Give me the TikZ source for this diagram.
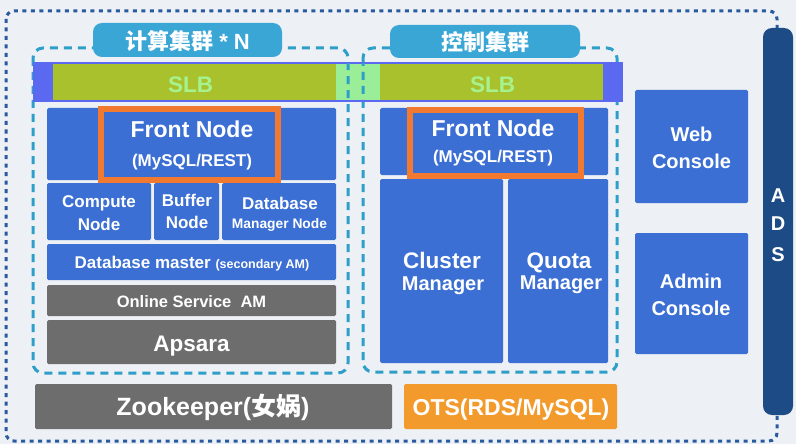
\documentclass[tikz,border=0pt]{standalone}
\usepackage{fontspec}
\setmainfont{Liberation Sans}
\newfontfamily\cjk{Noto Sans CJK SC}
\usetikzlibrary{fit}
\definecolor{bgc}{HTML}{EDF0F4}
\definecolor{blu}{HTML}{3B6FD3}
\definecolor{gry}{HTML}{6D6D6D}
\definecolor{teal}{HTML}{2E9FC9}
\definecolor{lab}{HTML}{3AA6D6}
\definecolor{outer}{HTML}{2A5A9E}
\definecolor{ads}{HTML}{1C4B85}
\definecolor{slbend}{HTML}{5B68F0}
\definecolor{olive}{HTML}{A9C12C}
\definecolor{gap}{HTML}{9AEE98}
\definecolor{slbtxt}{HTML}{A6F28E}
\definecolor{ofr}{HTML}{F27A30}
\definecolor{ots}{HTML}{F39A2C}
\newcommand\fsz[1]{\fontsize{#1}{#1}\selectfont}
\begin{document}
\begin{tikzpicture}[x=1pt,y=-1pt,
  box/.style={inner sep=0pt,outer sep=0pt,draw=none,rounded corners=1.5pt},
  blk/.style={box,fill=blu},
  gblk/.style={box,fill=gry},
  frame/.style={inner sep=0pt,outer sep=0pt,draw=ofr,fill=blu,line width=6pt},
  lbl/.style={inner sep=0pt,outer sep=0pt,fill=lab,rounded corners=9pt},
  clus/.style={draw=teal,line width=3pt,dash pattern=on 8pt off 6pt,rounded corners=10pt},
  txt/.style={text=white,inner sep=0pt,anchor=base,font=\bfseries}]
\fill[bgc] (0,0) rectangle (796,444);
\useasboundingbox (0,0) rectangle (796,444);
% outer dotted border
\draw[outer,line width=3pt,dash pattern=on 4pt off 4.5pt,rounded corners=8pt] (6,11) rectangle (777,441);
% cluster boxes
\draw[clus] (33,48) rectangle (348,373);
\draw[clus] (363,48) rectangle (617,372);
% SLB bar
\node[box,rounded corners=0pt,fill=slbend,fit={(33,62)(623,102)}] (slb) {};
\node[box,rounded corners=0pt,fill=olive,fit={(53,64)(336,100)}] (slbL) {};
\node[box,rounded corners=0pt,fill=gap,fit={(336,64)(380,100)}] (slbG) {};
\node[box,rounded corners=0pt,fill=olive,fit={(380,64)(603,100)}] (slbR) {};
\begin{scope}
\clip (slbG.north west) rectangle (slbG.south east);
\draw[clus] (33,48) rectangle (348,373);
\draw[clus] (363,48) rectangle (617,372);
\end{scope}
\node[txt,text=slbtxt,font=\bfseries\fsz{22.5}] (tslbL) at (190.5,93) {SLB};
\node[txt,text=slbtxt,font=\bfseries\fsz{22.5}] (tslbR) at (492.5,93) {SLB};
% cluster labels
\node[lbl,fit={(93,23)(282,57)}] (labL) {};
\node[lbl,fit={(390,25)(580,58)}] (labR) {};
\node[txt,font=\bfseries\fsz{22}] (tlabL) at (187.5,50) {{\cjk 计算集群} * N};
\node[txt,font=\bfseries\fsz{22}] (tlabR) at (485.5,50.5) {\cjk 控制集群};
% left column
\node[blk,fit={(47,108)(336,180)}] (fnL) {};
\node[frame,fit={(101,109)(278,180)}] (ofL) {};
\node[txt,font=\bfseries\fsz{23}] (tfnL) at (192,137) {Front Node};
\node[txt,font=\bfseries\fsz{17}] (tmyL) at (192,166) {(MySQL/REST)};
\node[blk,fit={(47,183)(151,240)}] (comp) {};
\node[blk,fit={(154,183)(219,240)}] (buf) {};
\node[blk,fit={(222,183)(336,240)}] (dbmn) {};
\node[txt,font=\bfseries\fsz{17}] (tc1) at (99,207) {Compute};
\node[txt,font=\bfseries\fsz{17}] (tc2) at (99,230) {Node};
\node[txt,font=\bfseries\fsz{17}] (tb1) at (187,206) {Buffer};
\node[txt,font=\bfseries\fsz{17}] (tb2) at (187,228) {Node};
\node[txt,font=\bfseries\fsz{17}] (td1) at (280,209) {Database};
\node[txt,font=\bfseries\fsz{13.8}] (td2) at (279.5,228) {Manager Node};
\node[blk,fit={(47,244)(336,280)}] (dbms) {};
\node[txt,font=\bfseries\fsz{17}] (tdm) at (192,268) {Database master {\fsz{12.5}(secondary AM)}};
\node[gblk,fit={(47,285)(336,316)}] (osam) {};
\node[txt,font=\bfseries\fsz{16.5}] (tos) at (191.5,307) {Online Service\ \ AM};
\node[gblk,fit={(47,320)(336,364)}] (aps) {};
\node[txt,font=\bfseries\fsz{22.5}] (tap) at (191.5,351) {Apsara};
\node[gblk,fit={(35,384)(392,429)}] (zk) {};
\node[txt,font=\bfseries\fsz{25}] (tzk) at (213,415) {Zookeeper({\cjk 女娲})};
% right column
\node[blk,fit={(380,108)(608,175)}] (fnR) {};
\node[frame,fit={(410,110)(581,176)}] (ofR) {};
\node[txt,font=\bfseries\fsz{23}] (tfnR) at (493,136) {Front Node};
\node[txt,font=\bfseries\fsz{17}] (tmyR) at (493,162) {(MySQL/REST)};
\node[blk,fit={(380,179)(503,363)}] (cm) {};
\node[blk,fit={(508,179)(608,363)}] (qm) {};
\node[txt,font=\bfseries\fsz{22.5}] (tcm1) at (442,268) {Cluster};
\node[txt,font=\bfseries\fsz{20}] (tcm2) at (443,290) {Manager};
\node[txt,font=\bfseries\fsz{22.5}] (tqm1) at (559,268) {Quota};
\node[txt,font=\bfseries\fsz{20}] (tqm2) at (561,289) {Manager};
\node[box,fill=ots,fit={(404,384)(617,429)}] (ots) {};
\node[txt,font=\bfseries\fsz{23}] (tots) at (511,415) {OTS(RDS/MySQL)};
% consoles
\node[blk,fit={(635,90)(748,203)}] (web) {};
\node[txt,font=\bfseries\fsz{20}] (tw1) at (691.5,142) {Web};
\node[txt,font=\bfseries\fsz{20}] (tw2) at (691.5,168) {Console};
\node[blk,fit={(635,233)(748,354)}] (adm) {};
\node[txt,font=\bfseries\fsz{20}] (ta1) at (691,288) {Admin};
\node[txt,font=\bfseries\fsz{20}] (ta2) at (691,315) {Console};
% ADS
\node[box,fill=ads,rounded corners=9pt,fit={(763,28)(793,415)}] (adsb) {};
\node[txt,font=\bfseries\fsz{20}] (tA) at (778,202) {A};
\node[txt,font=\bfseries\fsz{20}] (tD) at (778,230) {D};
\node[txt,font=\bfseries\fsz{20}] (tS) at (778,261) {S};
\end{tikzpicture}
\end{document}
